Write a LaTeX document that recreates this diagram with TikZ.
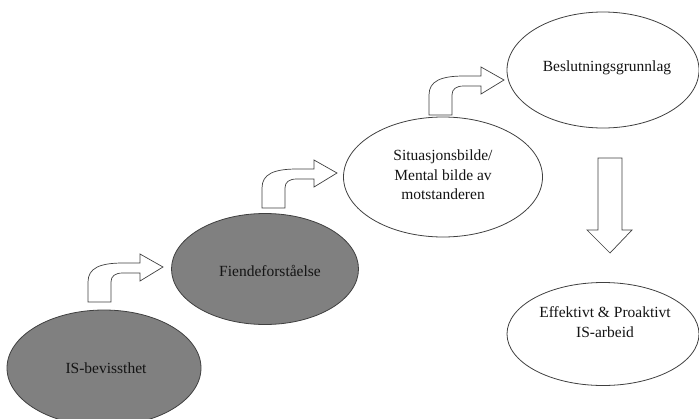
\documentclass[tikz,border=0pt]{standalone}
\usepackage{fontspec}
\setmainfont{Liberation Serif}
\usetikzlibrary{shapes.geometric}
\definecolor{edge}{HTML}{404040}
\definecolor{darkfill}{HTML}{808080}
\definecolor{txt}{HTML}{141414}
\tikzset{
  bubble/.style={ellipse, draw=edge, line width=0.8pt, inner sep=0pt},
  darkbubble/.style={bubble, fill=darkfill},
  lightbubble/.style={bubble, fill=white},
  label text/.style={font=\fontsize{15.5}{19.5}\selectfont, text=txt, align=center},
  blockarrow/.style={draw=edge, line width=0.7pt, fill=white},
  pics/bentarrow/.style={code={
    \draw[blockarrow] (0,0) -- (0,-20) .. controls (0,-34) and (12,-39) .. (35,-39)
      -- (52,-39) -- (52,-48) -- (75,-35) -- (52,-21) -- (52,-29) -- (35,-29)
      .. controls (27,-29) and (23,-26) .. (23,-20) -- (23,0) -- cycle;
  }}
}
\begin{document}
\begin{tikzpicture}[x=1pt,y=-1pt]
\useasboundingbox (0,0) rectangle (699,418);
\begin{scope}
\clip (0,0) rectangle (699,418);
\node[darkbubble, minimum width=194pt, minimum height=116pt] (isb) at (104,368) {};
\node[label text] (isbt) at (106,368) {IS-bevissthet};
\node[darkbubble, minimum width=187pt, minimum height=111pt] (fie) at (265,269) {};
\node[label text] (fiet) at (270,271) {Fiendeforståelse};
\node[lightbubble, minimum width=199pt, minimum height=120pt] (sit) at (443,177) {};
\node[label text] (sitt) at (443,175) {Situasjonsbilde/\\Mental bilde av\\motstanderen};
\node[lightbubble, minimum width=192pt, minimum height=116pt] (bes) at (603,70) {};
\node[label text] (best) at (607,68) {Beslutningsgrunnlag};
\node[lightbubble, minimum width=192pt, minimum height=103pt] (eff) at (603,334) {};
\node[label text] (efft) at (605,322) {Effektivt \& Proaktivt\\IS-arbeid};
\end{scope}
\pic at (88,302) {bentarrow};
\pic at (262,208) {bentarrow};
\pic at (429,115) {bentarrow};
\draw[blockarrow] (598,158) -- (622,158) -- (622,230) -- (632,230) -- (610,253)
  -- (587,230) -- (598,230) -- cycle;
\end{tikzpicture}
\end{document}
